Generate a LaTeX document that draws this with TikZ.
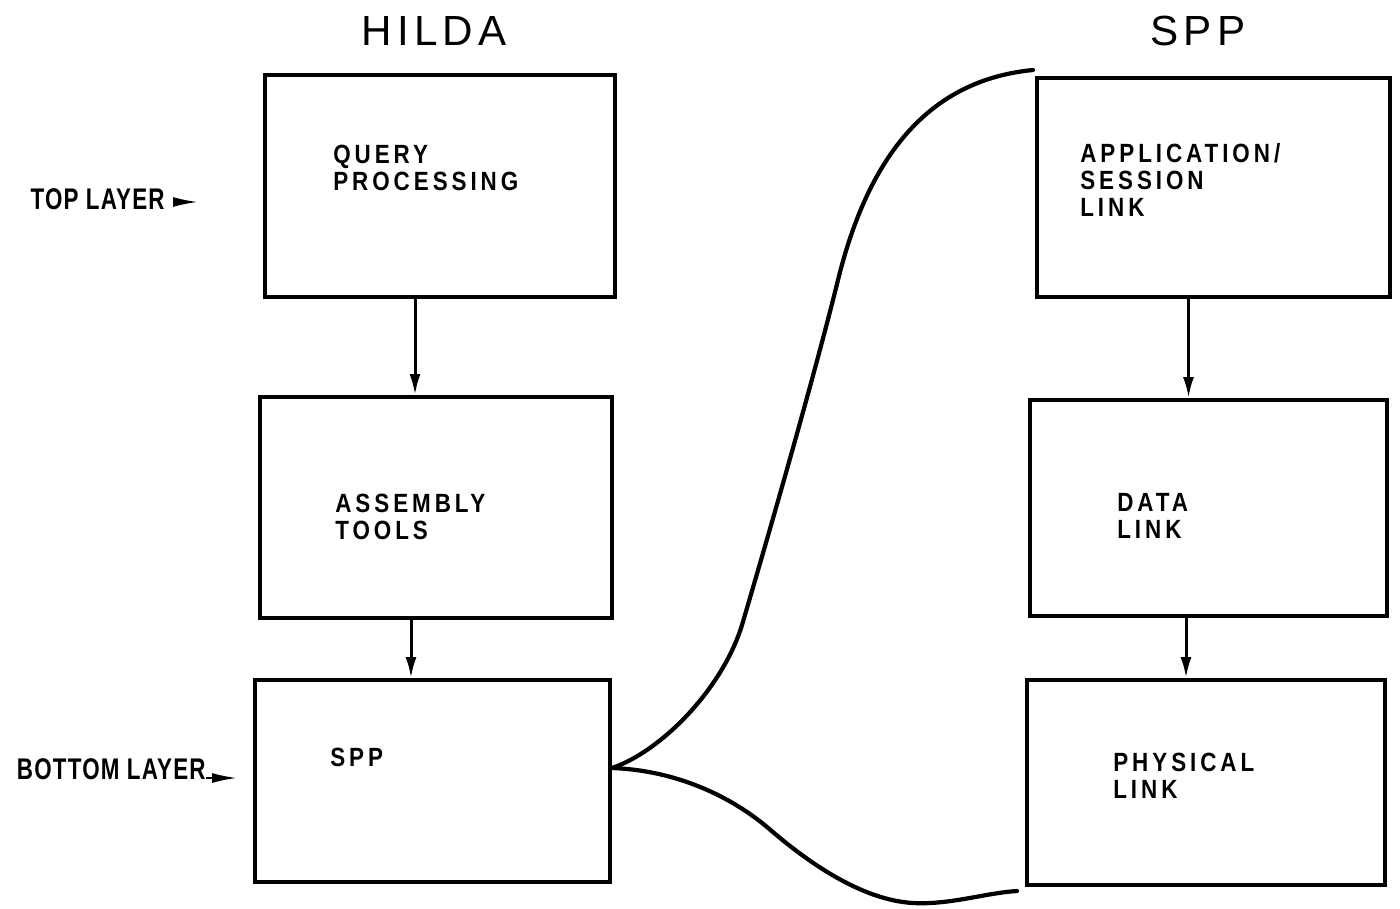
\documentclass[tikz,border=0pt]{standalone}
\usepackage{fontspec}
\setmainfont{Liberation Sans}
\newfontfamily\plotfont[LetterSpace=15, FakeStretch=0.85]{Liberation Sans}
\newfontfamily\markfont[LetterSpace=4, FakeStretch=0.75]{Liberation Sans}
\newfontfamily\headfont[LetterSpace=12]{Liberation Sans}
\usetikzlibrary{arrows.meta, positioning, calc}
\tikzset{
  layerbox/.style={rectangle, draw=black, line width=2.2pt, inner sep=0pt},
  boxtext/.style={anchor=north west, inner sep=0pt, align=left,
                  font=\plotfont\bfseries\fontsize{15}{15.4}\selectfont},
  headtext/.style={inner sep=0pt, font=\headfont\fontsize{24}{28}\selectfont},
  layerlbl/.style={anchor=east, inner sep=0pt,
                   font=\markfont\bfseries\fontsize{17}{20}\selectfont},
  flow/.style={-{Latex[length=0.42cm,width=0.22cm]}, line width=1.7pt},
  layerptr/.style={-{Latex[length=0.5cm,width=0.2cm]}, line width=1.2pt},
  wire/.style={line width=2.4pt, line cap=round},
}
\begin{document}
\begin{tikzpicture}[x=0.02cm, y=-0.02cm]
  \useasboundingbox (0,0) rectangle (1400,909);

  % --- column headings ---
  \node[headtext] (hilda)    at (434, 31)  {HILDA};
  \node[headtext] (spptitle) at (1198, 31) {SPP};

  % --- HILDA stack ---
  \node[layerbox, minimum width=7cm,   minimum height=4.44cm] (query)   at (440, 186)   {};
  \node[layerbox, minimum width=7.04cm, minimum height=4.42cm] (asm)    at (436, 507.5) {};
  \node[layerbox, minimum width=7.1cm, minimum height=4.04cm] (sppleft) at (432.5, 781) {};

  \node[boxtext] (querytxt) at (333, 145) {QUERY\\PROCESSING};
  \node[boxtext] (asmtxt)   at (335, 494) {ASSEMBLY\\TOOLS};
  \node[boxtext] (spptxt)   at (330, 748) {SPP};

  % --- SPP stack ---
  \node[layerbox, minimum width=7.06cm, minimum height=4.38cm] (appl)  at (1213.5, 187.5) {};
  \node[layerbox, minimum width=7.14cm, minimum height=4.32cm] (datal) at (1208.5, 508)   {};
  \node[layerbox, minimum width=7.16cm, minimum height=4.1cm]  (phys)  at (1206, 782.5)   {};

  \node[boxtext] (appltxt)  at (1080, 143) {APPLICATION/\\SESSION\\LINK};
  \node[boxtext] (datatxt)  at (1117, 493) {DATA\\LINK};
  \node[boxtext] (physxtxt) at (1113, 753) {PHYSICAL\\LINK};

  % --- downward flow ---
  \draw[flow] ([xshift=-0.5cm]query.south) -- ([xshift=-0.5cm]query.south |- asm.north);
  \draw[flow] ([xshift=-0.5cm]asm.south)   -- ([xshift=-0.5cm]asm.south |- sppleft.north);
  \draw[flow] ([xshift=-0.5cm]appl.south)  -- ([xshift=-0.5cm]appl.south |- datal.north);
  \draw[flow] ([xshift=-0.45cm]datal.south) -- ([xshift=-0.45cm]datal.south |- phys.north);

  % --- layer markers ---
  \node[layerlbl] (toplbl) at (165, 199) {TOP LAYER};
  \node[layerlbl] (botlbl) at (206, 769) {BOTTOM LAYER};
  \coordinate (topptr) at (198, 202);
  \coordinate (botptr) at (237, 778);
  \draw[layerptr] ([xshift=0.16cm]toplbl.east |- topptr) -- (topptr);
  \draw[layerptr] (botlbl.east |- botptr) -- (botptr);

  % --- SPP fan-out to the other stack ---
  \coordinate (split)  at ([yshift=0.26cm]sppleft.east);
  \coordinate (topend) at (1033, 70);
  \coordinate (botend) at (1017, 891);
  \draw[wire] (split) .. controls (660,752) and (722,690) .. (742,625)
                      .. controls (770,530) and (814,377) .. (838,280)
                      .. controls (869,154) and (930,80) .. (topend);
  \draw[wire] (split) .. controls (670,770) and (725,792) .. (767,827)
                      .. controls (805,860) and (860,900) .. (913,903)
                      .. controls (950,905) and (985,893) .. (botend);
\end{tikzpicture}
\end{document}
